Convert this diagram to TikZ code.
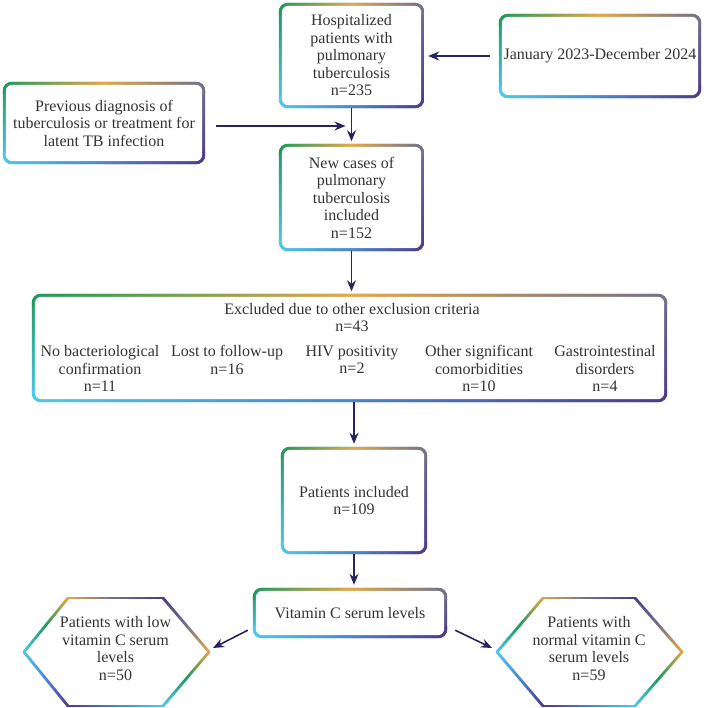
\documentclass[tikz,border=0pt]{standalone}
\usepackage{fontspec}
\setmainfont{Liberation Serif}
\usetikzlibrary{arrows.meta,calc,backgrounds}
\definecolor{gGreen}{HTML}{1F9A5C}
\definecolor{gGold}{HTML}{E3A84A}
\definecolor{gGray}{HTML}{70708A}
\definecolor{gPurple}{HTML}{4E3A8A}
\definecolor{gCyan}{HTML}{4EC8EC}
\definecolor{gBlue}{HTML}{4A86CC}
\definecolor{arrc}{HTML}{28245F}
\definecolor{txt}{HTML}{333333}
% gradient ring round a rectangular node (drawn on the background layer)
\newcommand\gbox[1]{%
  \begin{scope}
    \clip[rounded corners=9pt] (#1.south west) rectangle (#1.north east);
    \shade[top color=gGreen, bottom color=gCyan] (#1.south west) rectangle (#1.north);
    \shade[top color=gGray, bottom color=gPurple] (#1.south) rectangle (#1.north east);
    \shade[left color=gGreen, right color=gGray, middle color=gGold] ($(#1.north west)+(0pt,-12pt)$) rectangle (#1.north east);
    \shade[left color=gCyan, right color=gPurple, middle color=gBlue] (#1.south west) rectangle ($(#1.south east)+(0pt,12pt)$);
  \end{scope}
  \fill[white, rounded corners=6.5pt] ($(#1.south west)+(3pt,3pt)$) rectangle ($(#1.north east)+(-3pt,-3pt)$);}
% half edge with colour gradient
\newcommand\ghalf[4]{%
  \foreach \i in {0,...,7}{%
    \pgfmathsetmacro\pc{100-(\i+0.5)*12.5}%
    \pgfmathsetmacro\ta{\i/8}%
    \pgfmathsetmacro\tb{(\i+1)/8}%
    \draw[line width=2.8pt, line cap=round, draw=#3!\pc!#4] ($(#1)!\ta!(#2)$) -- ($(#1)!\tb!(#2)$);
  }}
\newcommand\gseg[5]{%
  \coordinate (gmA) at ($(#1)!0.5!(#2)$);
  \ghalf{#1}{gmA}{#3}{#4}%
  \ghalf{gmA}{#2}{#4}{#5}}
\newcommand\ghex[1]{%
  \gseg{#1-L}{#1-TL}{gCyan}{gGreen}{gGold}
  \gseg{#1-TL}{#1-TR}{gGold}{gGray}{gPurple}
  \gseg{#1-TR}{#1-R}{gPurple}{gGray}{gGold}
  \gseg{#1-R}{#1-BR}{gGold}{gGreen}{gCyan}
  \gseg{#1-BR}{#1-BL}{gCyan}{gBlue}{gPurple}
  \gseg{#1-BL}{#1-L}{gPurple}{gBlue}{gCyan}}
\begin{document}
\begin{tikzpicture}[x=1pt,y=-1pt,
  bx/.style={align=center, inner sep=0pt, text=txt, font=\fontsize{16}{17.5}\selectfont},
  arr/.style={draw=arrc, line width=1.6pt, -{Stealth[length=11pt,width=9pt]}}]
\useasboundingbox (0,0) rectangle (705,708);
% boxes
\node[bx, minimum width=145pt, minimum height=105pt] (h1) at (351.5,55.5)
  {Hospitalized\\patients with\\pulmonary\\tuberculosis\\n=235};
\node[bx, minimum width=202pt, minimum height=84pt] (jan) at (600,56)
  {January 2023-December 2024};
\node[bx, minimum width=202pt, minimum height=82pt] (prev) at (104,123)
  {Previous diagnosis of\\tuberculosis or treatment for\\latent TB infection};
\node[bx, minimum width=145pt, minimum height=107pt] (h2) at (351.5,197.5)
  {New cases of\\pulmonary\\tuberculosis\\included\\n=152};
\node[bx, minimum width=635pt, minimum height=108pt] (ex) at (349.5,348) {};
\node[bx] (exh) at (352,317.5) {Excluded due to other exclusion criteria\\n=43};
\node[bx, anchor=north] (c1) at (100,345.5) {No bacteriological\\confirmation\\n=11};
\node[bx, anchor=north] (c2) at (227,345.5) {Lost to follow-up\\n=16};
\node[bx, anchor=north] (c3) at (352,345.5) {HIV positivity\\n=2};
\node[bx, anchor=north] (c4) at (479,345.5) {Other significant\\comorbidities\\n=10};
\node[bx, anchor=north] (c5) at (605,345.5) {Gastrointestinal\\disorders\\n=4};
\node[bx, minimum width=146pt, minimum height=107pt] (h3) at (354,500.5)
  {Patients included\\n=109};
\node[bx, minimum width=194pt, minimum height=50pt] (vc) at (350,613)
  {Vitamin C serum levels};
% hexagons
\node[bx] (hl) at (115.5,648.5) {Patients with low\\vitamin C serum\\levels\\n=50};
\coordinate (hl-L) at (24,652);
\coordinate (hl-TL) at (68,598);
\coordinate (hl-TR) at (163,598);
\coordinate (hl-R) at (209,652);
\coordinate (hl-BR) at (163,706);
\coordinate (hl-BL) at (68,706);
\node[bx] (hr) at (589,648.5) {Patients with\\normal vitamin C\\serum levels\\n=59};
\coordinate (hr-L) at (497,652);
\coordinate (hr-TL) at (543,598);
\coordinate (hr-TR) at (635,598);
\coordinate (hr-R) at (682,652);
\coordinate (hr-BR) at (635,706);
\coordinate (hr-BL) at (543,706);
% borders
\begin{scope}[on background layer]
\gbox{h1}\gbox{jan}\gbox{prev}\gbox{h2}\gbox{ex}\gbox{h3}\gbox{vc}
\end{scope}
\ghex{hl}
\ghex{hr}
% connectors
\coordinate (jn) at (351.5,126);
\draw[arr, shorten <=9pt, shorten >=4pt] (jan.west) -- (h1.east |- jan.west);
\draw[arr, shorten >=2.5pt] (h1.south) -- (h2.north);
\draw[arr, shorten <=11pt, shorten >=6pt] (prev.east |- jn) -- (jn);
\draw[arr, shorten >=2.5pt] (h2.south) -- (h2.south |- ex.north);
\draw[arr, shorten >=3pt] (h3.north |- ex.south) -- (h3.north);
\draw[arr, shorten >=3pt] (h3.south) -- (h3.south |- vc.north);
\draw[arr] ($(vc.south west)+(-5,-8)$) -- ($(hl-R)+(4,-4)$);
\draw[arr] ($(vc.south east)+(8,-8)$) -- ($(hr-L)+(-5,-4)$);
\end{tikzpicture}
\end{document}
